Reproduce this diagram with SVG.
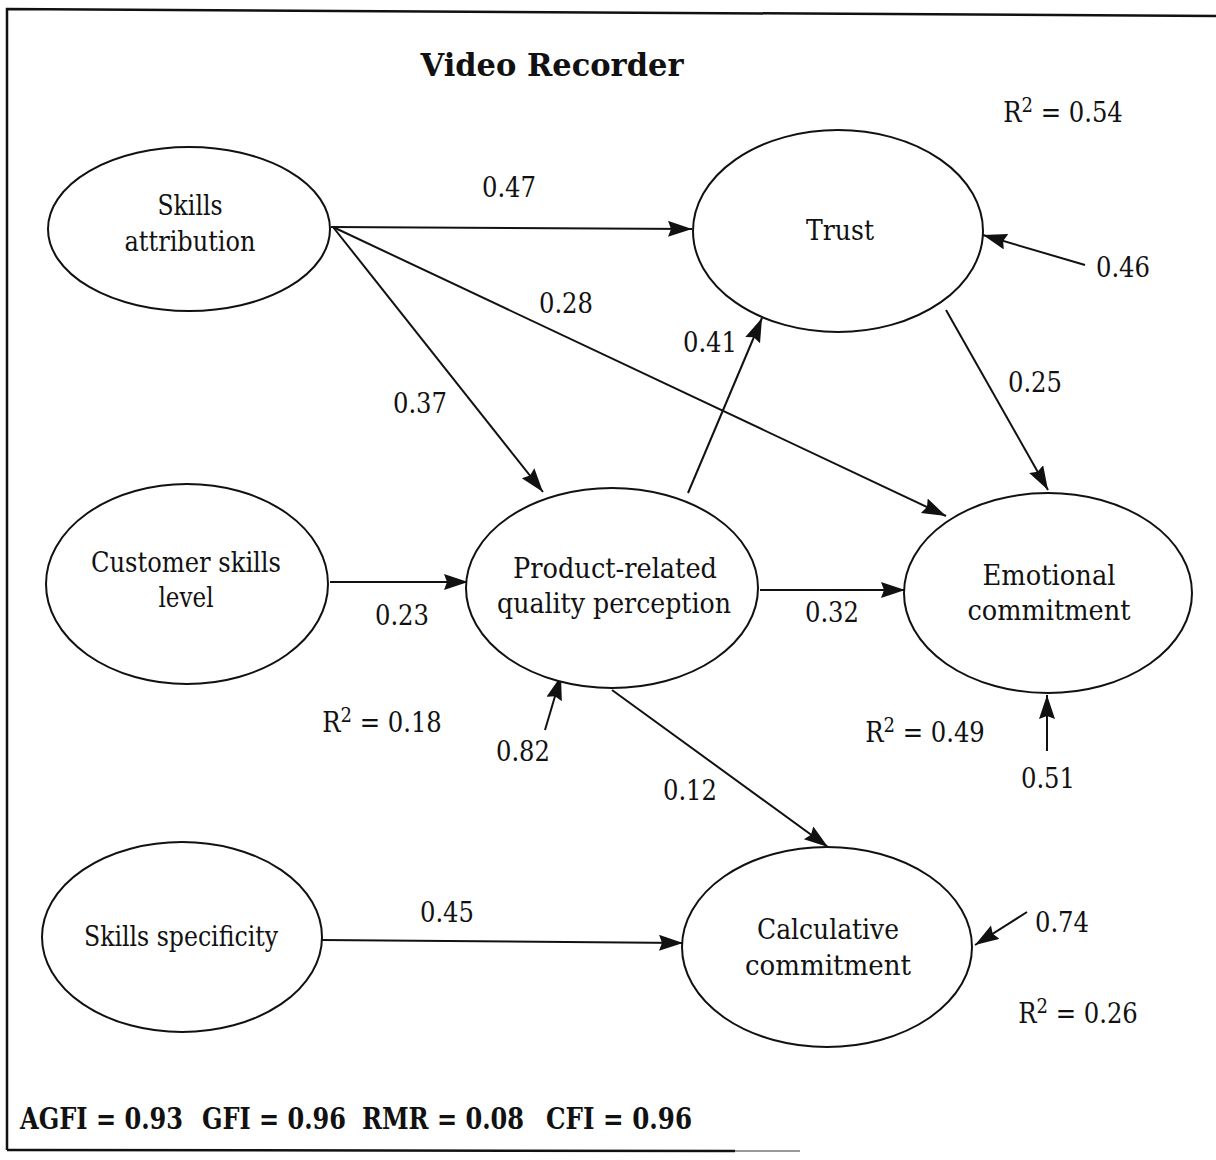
<svg xmlns="http://www.w3.org/2000/svg" width="1216" height="1160" viewBox="0 0 1216 1160">
  <style>
    .node { fill: #ffffff; stroke: #111111; stroke-width: 2; }
    .lbl { font-family: "DejaVu Serif", "Liberation Serif", serif; font-stretch: condensed; font-size: 28px; fill: #111111; text-anchor: middle; }
    .num { font-family: "DejaVu Serif", "Liberation Serif", serif; font-stretch: condensed; font-size: 27px; fill: #111111; text-anchor: middle; }
    .title { font-family: "DejaVu Serif", "Liberation Serif", serif; font-weight: bold; font-size: 31px; fill: #111111; text-anchor: middle; }
    .fit { font-family: "DejaVu Serif", "Liberation Serif", serif; font-stretch: condensed; font-weight: bold; font-size: 29px; fill: #111111; }
    .edge { stroke: #111111; stroke-width: 2; fill: none; marker-end: url(#head); }
    .frame { stroke: #111111; stroke-width: 2.5; fill: none; }
  </style>
  <defs>
    <marker id="head" markerUnits="userSpaceOnUse" markerWidth="26" markerHeight="18" refX="24" refY="8" orient="auto">
      <path d="M0,0 L24,8 L0,16 L3,8 z" fill="#111111"/>
    </marker>
  </defs>

  <rect width="1216" height="1160" fill="#ffffff"/>

  <!-- frame -->
  <path class="frame" d="M7,1150 L7,9 L1216,16"/>
  <path class="frame" d="M7,1150 L735,1151"/>
  <path d="M735,1151 L800,1151" stroke="#999999" stroke-width="2"/>

  <!-- title -->
  <text class="title" x="552" y="76" textLength="263" lengthAdjust="spacingAndGlyphs">Video Recorder</text>

  <!-- connectors -->
  <g id="connectors">
    <line class="edge" x1="331" y1="227" x2="692" y2="229"/>
    <line class="edge" x1="333" y1="227" x2="946" y2="516"/>
    <line class="edge" x1="333" y1="227" x2="543" y2="492"/>
    <line class="edge" x1="688" y1="493" x2="762" y2="318"/>
    <line class="edge" x1="946" y1="310" x2="1048" y2="490"/>
    <line class="edge" x1="1085" y1="265" x2="983" y2="235"/>
    <line class="edge" x1="330" y1="582" x2="468" y2="582"/>
    <line class="edge" x1="760" y1="590" x2="905" y2="590"/>
    <line class="edge" x1="545" y1="730" x2="561" y2="676"/>
    <line class="edge" x1="612" y1="690" x2="828" y2="847"/>
    <line class="edge" x1="1047" y1="751" x2="1047" y2="695"/>
    <line class="edge" x1="322" y1="940" x2="683" y2="943"/>
    <line class="edge" x1="1027" y1="912" x2="975" y2="945"/>
  </g>

  <!-- nodes -->
  <g id="skills-attribution">
    <ellipse class="node" cx="189" cy="229" rx="141" ry="82"/>
    <text class="lbl" x="190" y="215" textLength="65" lengthAdjust="spacingAndGlyphs">Skills</text>
    <text class="lbl" x="190" y="251" textLength="131" lengthAdjust="spacingAndGlyphs">attribution</text>
  </g>
  <g id="trust">
    <ellipse class="node" cx="838" cy="231" rx="145" ry="101"/>
    <text class="lbl" x="840" y="240" textLength="68" lengthAdjust="spacingAndGlyphs">Trust</text>
  </g>
  <g id="customer-skills-level">
    <ellipse class="node" cx="187" cy="584" rx="141" ry="100"/>
    <text class="lbl" x="186" y="572" textLength="190" lengthAdjust="spacingAndGlyphs">Customer skills</text>
    <text class="lbl" x="186" y="607" textLength="55" lengthAdjust="spacingAndGlyphs">level</text>
  </g>
  <g id="product-quality">
    <ellipse class="node" cx="612" cy="588" rx="146" ry="100"/>
    <text class="lbl" x="615" y="578" textLength="204" lengthAdjust="spacingAndGlyphs">Product-related</text>
    <text class="lbl" x="614" y="613" textLength="234" lengthAdjust="spacingAndGlyphs">quality perception</text>
  </g>
  <g id="emotional-commitment">
    <ellipse class="node" cx="1048" cy="593" rx="144" ry="100"/>
    <text class="lbl" x="1049" y="585" textLength="133" lengthAdjust="spacingAndGlyphs">Emotional</text>
    <text class="lbl" x="1049" y="620" textLength="163" lengthAdjust="spacingAndGlyphs">commitment</text>
  </g>
  <g id="skills-specificity">
    <ellipse class="node" cx="182" cy="937" rx="140" ry="95"/>
    <text class="lbl" x="181" y="946" textLength="194" lengthAdjust="spacingAndGlyphs">Skills specificity</text>
  </g>
  <g id="calculative-commitment">
    <ellipse class="node" cx="827" cy="947" rx="145" ry="100"/>
    <text class="lbl" x="828" y="939" textLength="142" lengthAdjust="spacingAndGlyphs">Calculative</text>
    <text class="lbl" x="828" y="975" textLength="166" lengthAdjust="spacingAndGlyphs">commitment</text>
  </g>

  <!-- path coefficients -->
  <g id="coefficients">
    <text class="num" x="509" y="197">0.47</text>
    <text class="num" x="566" y="313">0.28</text>
    <text class="num" x="420" y="413">0.37</text>
    <text class="num" x="710" y="352">0.41</text>
    <text class="num" x="1035" y="392">0.25</text>
    <text class="num" x="1123" y="277">0.46</text>
    <text class="num" x="402" y="625">0.23</text>
    <text class="num" x="832" y="622">0.32</text>
    <text class="num" x="523" y="761">0.82</text>
    <text class="num" x="690" y="800">0.12</text>
    <text class="num" x="1048" y="788">0.51</text>
    <text class="num" x="447" y="922">0.45</text>
    <text class="num" x="1062" y="932">0.74</text>
  </g>

  <!-- explained variance -->
  <g id="r-squared">
    <text class="num" x="1063" y="122">R<tspan font-size="20" dy="-10">2</tspan><tspan dy="10"> = 0.54</tspan></text>
    <text class="num" x="382" y="732">R<tspan font-size="20" dy="-10">2</tspan><tspan dy="10"> = 0.18</tspan></text>
    <text class="num" x="925" y="742">R<tspan font-size="20" dy="-10">2</tspan><tspan dy="10"> = 0.49</tspan></text>
    <text class="num" x="1078" y="1023">R<tspan font-size="20" dy="-10">2</tspan><tspan dy="10"> = 0.26</tspan></text>
  </g>

  <!-- fit indices -->
  <g id="fit-indices">
    <text class="fit" x="20" y="1129" textLength="163" lengthAdjust="spacingAndGlyphs">AGFI = 0.93</text>
    <text class="fit" x="202" y="1129" textLength="144" lengthAdjust="spacingAndGlyphs">GFI = 0.96</text>
    <text class="fit" x="362" y="1129" textLength="162" lengthAdjust="spacingAndGlyphs">RMR = 0.08</text>
    <text class="fit" x="546" y="1129" textLength="146" lengthAdjust="spacingAndGlyphs">CFI = 0.96</text>
  </g>
</svg>
